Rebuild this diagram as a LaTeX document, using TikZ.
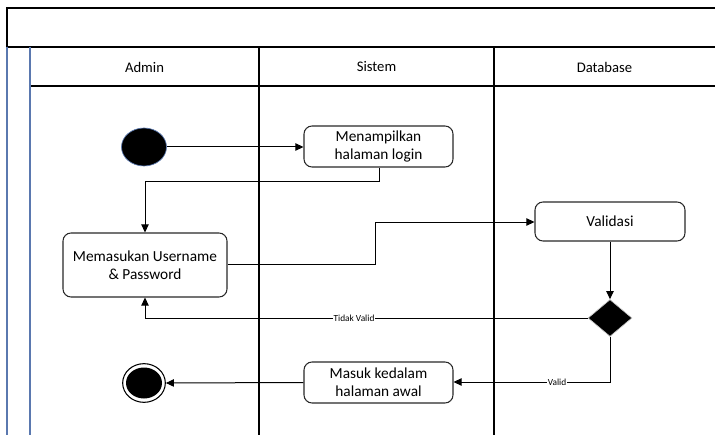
\documentclass[tikz,border=0pt]{standalone}
\usepackage{fontspec}
\setmainfont{Carlito}
\usetikzlibrary{arrows.meta,shapes.geometric}
\definecolor{lanebl}{RGB}{90,120,175}
\definecolor{boxgray}{RGB}{40,40,40}
\tikzset{
  act/.style={draw=boxgray,line width=0.8pt,rounded corners=6pt,fill=white,align=center,
    font=\fontsize{11.5}{13.5}\selectfont,inner sep=0pt},
  lane/.style={line width=0.8pt,draw=black},
  conn/.style={line width=0.75pt,draw=black,-{Triangle[length=6pt,width=5.5pt]}},
  connplain/.style={line width=0.75pt,draw=black},
  hdr/.style={font=\fontsize{11}{13}\selectfont},
  lbl/.style={font=\fontsize{7}{8}\selectfont,fill=white,inner sep=0.5pt}
}
\begin{document}
\begin{tikzpicture}[x=0.75pt,y=-0.75pt]
\useasboundingbox (0,0) rectangle (715,435);
% frame
\draw[lane] (7,47) -- (7,8) -- (716,8);
\draw[lane] (7,47) -- (716,47);
\draw[lane] (30,86) -- (716,86);
\draw[line width=0.8pt,draw=lanebl] (7,47) -- (7,436);
\draw[line width=0.8pt,draw=lanebl] (30,47) -- (30,436);
\draw[lane] (259,47) -- (259,436);
\draw[lane] (494,47) -- (494,436);
% headers
\node[hdr] (hadmin) at (144.5,67) {Admin};
\node[hdr] (hsistem) at (376.5,67) {Sistem};
\node[hdr] (hdb) at (604.5,67) {Database};
% nodes
\node[ellipse,fill=black,draw=lanebl,line width=0.5pt,minimum width=33.75pt,minimum height=28.5pt,inner sep=0pt] (start) at (144,147) {};
\node[act,minimum width=111.75pt,minimum height=30.75pt] (login) at (378.5,146.5) {Menampilkan\\halaman login};
\node[act,minimum width=123pt,minimum height=48pt] (input) at (145,265) {Memasukan Username\\\& Password};
\node[act,minimum width=112.5pt,minimum height=29.25pt] (valid) at (610,221.5) {Validasi};
\node[diamond,fill=black,draw=gray!40,line width=0.5pt,minimum width=33pt,minimum height=27.75pt,inner sep=0pt] (dec) at (610,318) {};
\node[act,minimum width=111.75pt,minimum height=30.75pt] (masuk) at (378.5,382.5) {Masuk kedalam\\halaman awal};
\node[circle,draw=black,line width=0.8pt,fill=white,minimum width=32pt,minimum height=29pt,ellipse,inner sep=0pt] (endo) at (144,383) {};
\node[ellipse,fill=black,minimum width=27pt,minimum height=23.25pt,inner sep=0pt] (endi) at (144,383) {};
% coordinates
\coordinate (c1) at (379,182);
\coordinate (c2) at (145,182);
\coordinate (c3) at (375,264);
\coordinate (c4) at (375,222);
\coordinate (c5) at (145,318);
\coordinate (c6) at (610,382);
% connectors
\draw[conn] (start) -- (login.west |- start);
\draw[conn] (login.south -| c1) -- (c1) -- (c2) -- (input.north -| c2);
\draw[conn] (input.east |- c3) -- (c3) -- (c4) -- (valid.west |- c4);
\draw[conn] (valid.south) -- (dec.north);
\draw[conn] (dec.west) -- (c5) -- (input.south -| c5);
\node[lbl] (ltv) at (354,318) {Tidak Valid};
\draw[conn] (dec.south) -- (c6) -- (masuk.east |- c6);
\node[lbl] (lv) at (557,382) {Valid};
\draw[conn] (masuk.west) -- (endo.east);
\end{tikzpicture}
\end{document}
